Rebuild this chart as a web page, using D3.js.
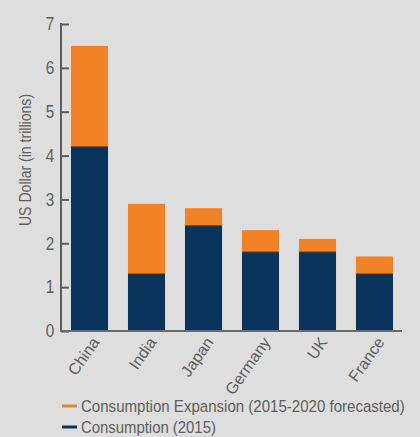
<!DOCTYPE html>
<html lang="en">
    <head>
        <meta charset="utf-8">
        <title>Consumption chart</title>
        <style>
            body{ margin: 0; background: #dfdede; font-family: "Liberation Sans", sans-serif;}
        </style>
        <script type="text/javascript" src="https://d3js.org/d3.v7.min.js"></script>
    </head>
    <body>
        <div class="plot"></div>
        <script type="text/javascript">
            var countries = ["China", "India", "Japan", "Germany", "UK", "France"];
            var consumption2015 = [4.2, 1.3, 2.4, 1.8, 1.8, 1.3];
            var expansion = [2.3, 1.6, 0.4, 0.5, 0.3, 0.4];
            var yTicks = [0, 1, 2, 3, 4, 5, 6, 7];
            var legendLabels = ["Consumption Expansion (2015-2020 forecasted)", "Consumption (2015)"];
            var colors = ["#f28226", "#0b345d"];

            const width = 420;
            const height = 437;
            const svg = d3.select('.plot')
                .append('svg')
                .attr('width', width)
                .attr('height', height);

            var x = d3.scaleBand()
                .domain(countries)
                .range([61, 403])
                .paddingInner(0.35)
                .paddingOuter(0.175);
            var y = d3.scaleLinear()
                .domain([0, 7])
                .range([331, 24]);

            // stacked data
            var rows = countries.map((c, i) => ({country: c, base: consumption2015[i], ext: expansion[i]}));

            svg.selectAll(".base")
                .data(rows)
                .enter()
                .append("rect")
                .attr("class", "base")
                .attr("x", d => x(d.country))
                .attr("width", x.bandwidth())
                .attr("y", d => y(d.base))
                .attr("height", d => y(0) - y(d.base))
                .attr("fill", colors[1]);

            svg.selectAll(".ext")
                .data(rows)
                .enter()
                .append("rect")
                .attr("class", "ext")
                .attr("x", d => x(d.country))
                .attr("width", x.bandwidth())
                .attr("y", d => y(d.base + d.ext))
                .attr("height", d => y(d.base) - y(d.base + d.ext))
                .attr("fill", colors[0]);

            // thin dark seam between segments
            svg.selectAll(".seam")
                .data(rows)
                .enter()
                .append("line")
                .attr("x1", d => x(d.country))
                .attr("x2", d => x(d.country) + x.bandwidth())
                .attr("y1", d => y(d.base))
                .attr("y2", d => y(d.base))
                .attr("stroke", "#3a3d44")
                .attr("stroke-width", 1);

            // y axis
            var yAxis = svg.append("g")
                .attr("transform", "translate(61,0)")
                .call(d3.axisRight(y).tickValues(yTicks).tickSize(8).tickFormat(d3.format("d")));
            yAxis.select(".domain").remove();
            yAxis.selectAll(".tick line").attr("stroke", "#5d5d5d").attr("stroke-width", 2);
            yAxis.selectAll(".tick text")
                .attr("x", -8)
                .attr("text-anchor", "end")
                .attr("fill", "#5d5d5d")
                .attr("font-size", 18)
                .attr("font-family", "Liberation Sans, sans-serif")
                .attr("transform", "scale(0.85,1)");
            svg.append("line")
                .attr("x1", 61).attr("x2", 61)
                .attr("y1", y(7) - 1).attr("y2", y(0) + 1)
                .attr("stroke", "#5d5d5d").attr("stroke-width", 2);

            // x axis
            svg.append("line")
                .attr("x1", 60).attr("x2", 402)
                .attr("y1", y(0)).attr("y2", y(0))
                .attr("stroke", "#6a6a6a").attr("stroke-width", 2);

            svg.selectAll(".xlabel")
                .data(countries)
                .enter()
                .append("text")
                .attr("class", "xlabel")
                .attr("transform", d => "translate(" + (x(d) + x.bandwidth() / 2 + 6) + ",339) rotate(-55)")
                .attr("text-anchor", "end")
                .attr("dy", "0.35em")
                .attr("fill", "#5d5d5d")
                .attr("font-size", 16)
                .text(d => d);

            // y title
            svg.append("text")
                .attr("transform", "translate(31,160) rotate(-90) scale(0.88,1)")
                .attr("text-anchor", "middle")
                .attr("fill", "#5d5d5d")
                .attr("font-size", 16)
                .text("US Dollar (in trillions)");

            // legend, condensed to the reference width
            var legendWidths = [324, 135];
            var legend = svg.selectAll(".legend")
                .data(legendLabels)
                .enter()
                .append("g")
                .attr("transform", (d, i) => "translate(62," + (406 + i * 21) + ")");
            legend.append("line")
                .attr("x1", 0).attr("x2", 15)
                .attr("stroke", (d, i) => colors[i])
                .attr("stroke-width", 3);
            legend.append("text")
                .attr("dy", "0.36em")
                .attr("fill", "#5d5d5d")
                .attr("font-size", 17)
                .text(d => d)
                .each(function(d, i) {
                    var w = this.getComputedTextLength();
                    d3.select(this).attr("transform", "translate(19,0) scale(" + (legendWidths[i] / w) + ",1)");
                });
        </script>
    </body>
</html>
